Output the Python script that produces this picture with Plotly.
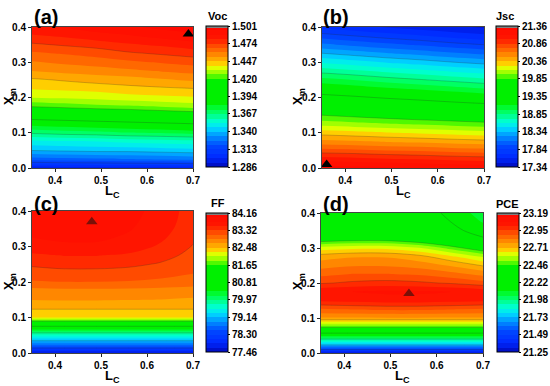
import plotly.graph_objects as go

# ---------------- data ----------------
x_lc = [0.35, 0.42, 0.49, 0.56, 0.63, 0.70]
y_xm = [0.0, 0.025, 0.05, 0.075, 0.1, 0.125, 0.15, 0.175, 0.2,
        0.225, 0.25, 0.275, 0.3, 0.325, 0.35, 0.375, 0.4]

voc = [
    [1.295, 1.296, 1.296, 1.297, 1.297, 1.298],
    [1.323, 1.324, 1.325, 1.326, 1.327, 1.328],
    [1.340, 1.341, 1.342, 1.342, 1.343, 1.344],
    [1.351, 1.352, 1.353, 1.355, 1.356, 1.357],
    [1.368, 1.370, 1.371, 1.373, 1.374, 1.376],
    [1.383, 1.385, 1.387, 1.389, 1.391, 1.393],
    [1.404, 1.406, 1.408, 1.410, 1.412, 1.414],
    [1.421, 1.423, 1.425, 1.426, 1.428, 1.430],
    [1.434, 1.435, 1.436, 1.438, 1.439, 1.440],
    [1.441, 1.442, 1.443, 1.445, 1.446, 1.447],
    [1.446, 1.448, 1.450, 1.451, 1.453, 1.455],
    [1.454, 1.456, 1.457, 1.459, 1.461, 1.463],
    [1.460, 1.462, 1.464, 1.466, 1.468, 1.470],
    [1.466, 1.468, 1.470, 1.473, 1.475, 1.477],
    [1.473, 1.475, 1.477, 1.480, 1.482, 1.485],
    [1.480, 1.482, 1.485, 1.487, 1.490, 1.492],
    [1.486, 1.488, 1.491, 1.493, 1.496, 1.498],
]

jsc = [
    [21.30, 21.28, 21.26, 21.24, 21.22, 21.20],
    [21.05, 21.03, 21.00, 20.98, 20.95, 20.93],
    [20.78, 20.76, 20.73, 20.71, 20.68, 20.66],
    [20.52, 20.50, 20.47, 20.45, 20.42, 20.40],
    [20.30, 20.27, 20.24, 20.21, 20.18, 20.15],
    [20.05, 20.02, 19.99, 19.96, 19.93, 19.90],
    [19.85, 19.81, 19.77, 19.73, 19.70, 19.66],
    [19.62, 19.58, 19.54, 19.50, 19.46, 19.42],
    [19.42, 19.38, 19.33, 19.29, 19.24, 19.20],
    [19.22, 19.17, 19.12, 19.08, 19.03, 18.98],
    [19.02, 18.97, 18.91, 18.86, 18.81, 18.76],
    [18.80, 18.75, 18.69, 18.64, 18.58, 18.53],
    [18.58, 18.52, 18.46, 18.41, 18.35, 18.30],
    [18.35, 18.29, 18.23, 18.18, 18.12, 18.07],
    [18.12, 18.06, 18.00, 17.95, 17.89, 17.84],
    [17.90, 17.84, 17.78, 17.73, 17.67, 17.62],
    [17.68, 17.63, 17.58, 17.53, 17.49, 17.45],
]

ff = [
    [77.66, 77.66, 77.66, 77.66, 77.66, 77.66],
    [78.80, 78.80, 78.80, 78.80, 78.80, 78.80],
    [79.67, 79.67, 79.67, 79.67, 79.67, 79.67],
    [80.80, 80.80, 80.80, 80.80, 80.80, 80.80],
    [82.28, 82.28, 82.28, 82.28, 82.28, 82.28],
    [82.50, 82.50, 82.50, 82.50, 82.50, 82.50],
    [82.70, 82.71, 82.71, 82.70, 82.69, 82.67],
    [82.82, 82.84, 82.84, 82.83, 82.81, 82.78],
    [83.09, 83.11, 83.11, 83.10, 83.07, 83.03],
    [83.22, 83.25, 83.25, 83.23, 83.18, 83.12],
    [83.36, 83.40, 83.40, 83.37, 83.30, 83.20],
    [83.49, 83.54, 83.54, 83.50, 83.40, 83.26],
    [83.66, 83.70, 83.70, 83.64, 83.50, 83.31],
    [83.74, 83.78, 83.78, 83.71, 83.57, 83.36],
    [83.80, 83.84, 83.84, 83.76, 83.62, 83.40],
    [83.84, 83.88, 83.88, 83.79, 83.65, 83.42],
    [83.86, 83.90, 83.90, 83.81, 83.67, 83.43],
]

pce = [
    [21.31, 21.31, 21.31, 21.31, 21.31, 21.31],
    [21.77, 21.77, 21.77, 21.77, 21.77, 21.77],
    [22.12, 22.12, 22.12, 22.12, 22.12, 22.12],
    [22.49, 22.49, 22.49, 22.49, 22.49, 22.49],
    [22.76, 22.76, 22.76, 22.76, 22.76, 22.76],
    [22.88, 22.89, 22.90, 22.90, 22.89, 22.88],
    [23.02, 23.03, 23.04, 23.04, 23.03, 23.02],
    [23.06, 23.07, 23.08, 23.08, 23.07, 23.05],
    [22.94, 22.96, 22.97, 22.96, 22.94, 22.91],
    [22.87, 22.89, 22.89, 22.88, 22.85, 22.81],
    [22.80, 22.82, 22.82, 22.80, 22.76, 22.70],
    [22.74, 22.76, 22.76, 22.73, 22.66, 22.58],
    [22.61, 22.63, 22.63, 22.59, 22.50, 22.40],
    [22.41, 22.43, 22.43, 22.39, 22.32, 22.24],
    [22.36, 22.38, 22.38, 22.34, 22.26, 22.16],
    [22.33, 22.35, 22.35, 22.31, 22.22, 22.09],
    [22.31, 22.33, 22.33, 22.29, 22.19, 22.04],
]

voc_ticks = ["1.286", "1.313", "1.340", "1.367", "1.394", "1.420", "1.447", "1.474", "1.501"]
jsc_ticks = ["17.34", "17.84", "18.34", "18.85", "19.35", "19.85", "20.36", "20.86", "21.36"]
ff_ticks = ["77.46", "78.30", "79.14", "79.97", "80.81", "81.65", "82.48", "83.32", "84.16"]
pce_ticks = ["21.25", "21.49", "21.73", "21.98", "22.22", "22.46", "22.71", "22.95", "23.19"]

voc_opt = [0.69, 0.38]
jsc_opt = [0.36, 0.01]
ff_opt = [0.48, 0.37]
pce_opt = [0.54, 0.17]

x_tickvals = [0.4, 0.5, 0.6, 0.7]
y_tickvals = [0.0, 0.1, 0.2, 0.3, 0.4]

# ---------------- style ----------------
W, H = 550, 386
FONT = "Arial, Liberation Sans, Helvetica, sans-serif"

ref_stops = [
    (0.00, '#0010c8'), (0.05, '#0028ff'), (0.14, '#0048ff'), (0.21, '#0090ff'),
    (0.26, '#00d0ff'), (0.31, '#00ffe0'), (0.36, '#00ff90'), (0.41, '#00ff40'),
    (0.45, '#00f000'), (0.62, '#00f000'), (0.66, '#80ff00'), (0.71, '#e0ff00'),
    (0.74, '#ffd000'), (0.78, '#ffa000'), (0.83, '#ff7000'), (0.87, '#ff4c00'),
    (0.92, '#ff1800'), (1.00, '#ff0a00'),
]
NSUB = 32
colorscale = [[0.0, '#000000']] + [[(NSUB * f + 0.5) / (NSUB + 1), c] for f, c in ref_stops] + [[1.0, '#808080']]


def fx(p):
    return p / W


def fy(p):
    return 1 - p / H


panels = [
    dict(z=voc, ticks=voc_ticks, title="Voc", opt=voc_opt, mcolor='#000000', label="(a)",
         plot=(32, 193, 27, 168), cb=(206, 26, 167), lab=(32, 4), cbt=(217, 16),
         ytit=(9, 97), xtit=(112, 191)),
    dict(z=jsc, ticks=jsc_ticks, title="Jsc", opt=jsc_opt, mcolor='#000000', label="(b)",
         plot=(322, 484, 27, 168), cb=(496, 26, 167), lab=(321, 4), cbt=(505, 16),
         ytit=(298, 97), xtit=(403, 191)),
    dict(z=ff, ticks=ff_ticks, title="FF", opt=ff_opt, mcolor='#7a1008', label="(c)",
         plot=(32, 193, 211, 353), cb=(206, 213, 352), lab=(32, 191), cbt=(218, 203),
         ytit=(9, 282), xtit=(112, 376)),
    dict(z=pce, ticks=pce_ticks, title="PCE", opt=pce_opt, mcolor='#7a1008', label="(d)",
         plot=(321, 483, 213, 353), cb=(497, 213, 352), lab=(321, 191), cbt=(507, 204),
         ytit=(298, 282), xtit=(402, 376)),
]

fig = go.Figure()
annotations = []
shapes = []
layout = {}

for i, p in enumerate(panels):
    k = '' if i == 0 else str(i + 1)
    xa, ya = 'x' + k, 'y' + k
    tv = [float(t) for t in p['ticks']]
    zmin, zmax = tv[0], tv[-1]
    major = (zmax - zmin) / 8
    size = (zmax - zmin) / NSUB
    x0, x1, y0, y1 = p['plot']
    cbx, cbt, cbb = p['cb']

    fig.add_trace(go.Contour(
        x=x_lc, y=y_xm, z=p['z'], xaxis=xa, yaxis=ya,
        colorscale=colorscale, zmin=zmin, zmax=zmax, zauto=False,
        contours=dict(coloring='fill', start=zmin, end=zmax, size=size, showlines=False),
        line=dict(width=0), hoverinfo='skip',
        colorbar=dict(
            x=fx(cbx), xanchor='left', y=fy((cbt + cbb) / 2), yanchor='middle',
            len=(cbb - cbt) / H, lenmode='fraction', thickness=22, thicknessmode='pixels',
            xpad=0, ypad=0, outlinecolor='black', outlinewidth=1,
            tickvals=tv, ticktext=p['ticks'], ticks='outside', ticklen=2, tickwidth=1,
            tickcolor='black',
            tickfont=dict(family=FONT, size=10, color='black', weight='bold'),
        ),
    ))
    fig.add_trace(go.Contour(
        x=x_lc, y=y_xm, z=p['z'], xaxis=xa, yaxis=ya,
        contours=dict(coloring='none', start=zmin + major, end=zmax - major, size=major),
        line=dict(color='rgba(40,40,40,0.4)', width=0.6), showscale=False, hoverinfo='skip',
    ))
    fig.add_trace(go.Scatter(
        x=[p['opt'][0]], y=[p['opt'][1]], xaxis=xa, yaxis=ya, mode='markers',
        marker=dict(symbol='triangle-up', size=10, color=p['mcolor']),
        showlegend=False, hoverinfo='skip',
    ))

    axcommon = dict(showline=True, linecolor='#444', linewidth=1, mirror=True,
                    ticks='outside', ticklen=3, tickwidth=1, tickcolor='#222',
                    showgrid=False, zeroline=False,
                    tickfont=dict(family=FONT, size=10, color='black', weight='bold'))
    layout['xaxis' + k] = dict(domain=[fx(x0), fx(x1)], range=[0.35, 0.7], anchor=ya,
                               tickvals=x_tickvals, tickformat='.1f', **axcommon)
    layout['yaxis' + k] = dict(domain=[fy(y1), fy(y0)], range=[0.0, 0.4], anchor=xa,
                               tickvals=y_tickvals, tickformat='.1f', **axcommon)

    # above / below colour boxes of the colour bar
    shapes.append(dict(type='rect', xref='paper', yref='paper', x0=fx(cbx), x1=fx(cbx + 22),
                       y0=fy(cbt + 2.5), y1=fy(cbt), fillcolor='#8a8a8a', line=dict(width=0)))
    shapes.append(dict(type='rect', xref='paper', yref='paper', x0=fx(cbx), x1=fx(cbx + 22),
                       y0=fy(cbb), y1=fy(cbb - 2), fillcolor='#000000', line=dict(width=0)))

    annotations.append(dict(text='<b>' + p['label'] + '</b>', x=fx(p['lab'][0]), y=fy(p['lab'][1]),
                            xref='paper', yref='paper', xanchor='left', yanchor='top',
                            showarrow=False, font=dict(family=FONT, size=20, color='black')))
    annotations.append(dict(text='<b>' + p['title'] + '</b>', x=fx(p['cbt'][0]), y=fy(p['cbt'][1]),
                            xref='paper', yref='paper', xanchor='center', yanchor='middle',
                            showarrow=False, font=dict(family=FONT, size=11, color='black')))
    annotations.append(dict(text='<b>X<sub>m</sub></b>', x=fx(p['ytit'][0]), y=fy(p['ytit'][1]),
                            xref='paper', yref='paper', xanchor='center', yanchor='middle',
                            textangle=-90, showarrow=False,
                            font=dict(family=FONT, size=13, color='black')))
    annotations.append(dict(text='<b>L<sub>C</sub></b>', x=fx(p['xtit'][0]), y=fy(p['xtit'][1]),
                            xref='paper', yref='paper', xanchor='center', yanchor='middle',
                            showarrow=False, font=dict(family=FONT, size=13, color='black')))

fig.update_layout(
    width=W, height=H, margin=dict(l=0, r=0, t=0, b=0, pad=0, autoexpand=False),
    paper_bgcolor='white', plot_bgcolor='white', showlegend=False,
    annotations=annotations, shapes=shapes, **layout,
)

fig.write_html(
    "out.html",
    config={'displayModeBar': False},
    post_script="document.body.style.margin='0';document.body.style.overflow='hidden';",
)
